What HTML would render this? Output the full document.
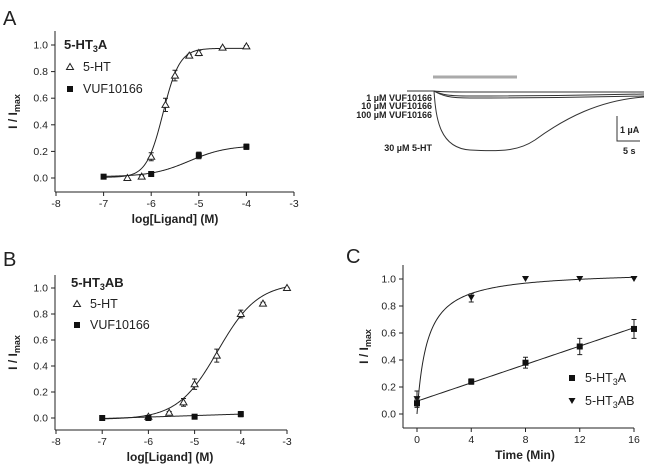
<!DOCTYPE html>
<html><head><meta charset="utf-8">
<style>
body{margin:0;background:#fff;}
svg{display:block;font-family:"Liberation Sans",Arial,sans-serif;}
</style></head>
<body>
<svg id="fig" width="653" height="472" viewBox="0 0 653 472" xmlns="http://www.w3.org/2000/svg">
<g fill="#222">
<text x="3" y="25" font-size="20">A</text>
<text x="3" y="266" font-size="20">B</text>
<text x="346" y="263" font-size="20">C</text>
</g>
<!-- Traces -->
<g fill="none" stroke="#333" stroke-width="1">
<line x1="433" y1="77" x2="517" y2="77" stroke="#aaa" stroke-width="3"/>
<path d="M407,91 L434,91 C440,92 450,92 470,92 L644,92"/>
<path d="M407,91 L434,91 C442,95 450,96 470,96 C540,96 600,95 644,94"/>
<path d="M407,91 L434,91 C442,96 450,98 470,98 C540,98 600,97 644,96"/>
<path d="M407,91 L434,91 C436,120 440,148 470,150 C505,152 520,150 535,140 C565,118 600,100 644,97"/>
<path d="M617,116 L617,141 L640,141"/>
</g>
<g font-size="9" font-weight="bold" fill="#222" text-anchor="end">
<text x="432" y="101">1 µM VUF10166</text>
<text x="432" y="109">10 µM VUF10166</text>
<text x="432" y="118">100 µM VUF10166</text>
<text x="432" y="151">30 µM 5-HT</text>
<text x="620" y="133" text-anchor="start">1 µA</text>
<text x="623" y="154" text-anchor="start">5 s</text>
</g>
</svg>
<script>
// Panel A data
const aX5HT=[-6.5,-6.2,-6,-5.7,-5.5,-5.2,-5,-4.5,-4];
const aY5HT=[0,0.01,0.16,0.55,0.77,0.92,0.94,0.98,0.99];
const aE5HT=[0,0.01,0.03,0.05,0.04,0.01,0.02,0.005,0.005];
const aXVUF=[-7,-6,-5,-4];
const aYVUF=[0.01,0.03,0.17,0.235];
const aEVUF=[0.005,0.005,0.025,0.02];
// Panel B data
const bX5HT=[-6,-5.55,-5.24,-5,-4.52,-4,-3.52,-3];
const bY5HT=[0.01,0.04,0.12,0.26,0.48,0.80,0.88,1.0];
const bE5HT=[0.01,0.01,0.03,0.04,0.05,0.03,0.01,0.005];
const bXVUF=[-7,-6,-5,-4];
const bYVUF=[0,0,0.01,0.03];
const bEVUF=[0.005,0.005,0.005,0.02];
// Panel C data
const cT=[0,4,8,12,16];
const cYA=[0.08,0.24,0.38,0.50,0.63];
const cEA=[0.03,0.02,0.04,0.06,0.07];
const cYAB=[0.11,0.86,1.0,1.0,1.0];
const cEAB=[0.06,0.03,0,0,0];
const yTicks=[0,0.2,0.4,0.6,0.8,1.0];
const logTicks=[-8,-7,-6,-5,-4,-3];
const timeTicks=[0,4,8,12,16];

const NS="http://www.w3.org/2000/svg";
const svg=document.getElementById('fig');
function mk(tag,attrs,parent){const e=document.createElementNS(NS,tag);for(const k in attrs)e.setAttribute(k,attrs[k]);(parent||svg).appendChild(e);return e;}
function hill(x,b,t,ec,n){return b+(t-b)/(1+Math.pow(10,(ec-x)*n));}

function panel(o){
  const g=mk('g',{});
  
  
  const sx=v=>o.x0+(v-o.xmin)/(o.xmax-o.xmin)*(o.x1-o.x0);
  const sy=v=>o.y0+(v-0)/(1-0)*(o.y1-o.y0);
  const ya=mk('line',{x1:o.ax,y1:o.ytop,x2:o.ax,y2:o.ay,stroke:'#222','stroke-width':1},g);
  
  
  const xa=mk('line',{x1:o.ax,y1:o.ay,x2:o.x1,y2:o.ay,stroke:'#222','stroke-width':1},g);
  
  
  yTicks.forEach(v=>{
    mk('line',{x1:o.ax-4,x2:o.ax,y1:sy(v),y2:sy(v),stroke:'#222'},g);
    const t=mk('text',{x:o.ax-7,y:sy(v)+3.5,'font-size':10.5,'text-anchor':'end',fill:'#222'},g);
    t.textContent=v.toFixed(1);
    
    
  });
  o.xticks.forEach(v=>{
    mk('line',{x1:sx(v),x2:sx(v),y1:o.ay,y2:o.ay+4,stroke:'#222'},g);
    const t=mk('text',{x:sx(v),y:o.ay+15,'font-size':10.5,'text-anchor':'middle',fill:'#222'},g);
    t.textContent=v;
    
    
  });
  const xt=mk('text',{x:o.xtx,y:o.ay+31,'font-size':12,'font-weight':'bold','text-anchor':'middle',fill:'#222'},g);
  xt.textContent=o.xtitle;
  
  
  const yt=mk('text',{transform:`translate(${o.ytx},${(o.ytop+o.ay)/2}) rotate(-90)`,'font-size':12,'font-weight':'bold','text-anchor':'middle',fill:'#222'},g);
  yt.innerHTML='I / I<tspan font-size="9" dy="3">max</tspan>';
  
  
  o.series.forEach(s=>{
    const sg=mk('g',{},g);
    
    
    let d='';
    for(let i=0;i<=200;i++){const xv=s.cx0+(s.cx1-s.cx0)*i/200;d+=(i?'L':'M')+sx(xv).toFixed(2)+','+sy(s.f(xv)).toFixed(2);}
    const c=mk('path',{d:d,fill:'none',stroke:'#222','stroke-width':1},sg);
    
    
    s.xs.forEach((xv,i)=>{
      const px=sx(xv),py=sy(s.ys[i]),e=s.es[i];
      if(e>0){
        const eb=mk('path',{d:`M${px},${sy(s.ys[i]-e)}V${sy(s.ys[i]+e)}M${px-2.5},${sy(s.ys[i]+e)}h5M${px-2.5},${sy(s.ys[i]-e)}h5`,stroke:'#222',fill:'none'},sg);
        
        
      }
      const m=marker(s.m,px,py,sg);
      
      
    });
  });
  return g;
}
function marker(type,x,y,p){
  if(type==='sq') return mk('rect',{x:x-3,y:y-3,width:6,height:6,fill:'#111'},p);
  if(type==='tri') return mk('path',{d:`M${x},${y-3.5}L${x+3.5},${y+2.5}L${x-3.5},${y+2.5}Z`,fill:'#fff',stroke:'#222'},p);
  return mk('path',{d:`M${x-3.5},${y-3}L${x+3.5},${y-3}L${x},${y+3}Z`,fill:'#111'},p);
}
function legend(items,x,y,dy,title,size){
  const g=mk('g',{});
  
  
  if(title){const t=mk('text',{x:x-6,y:y,'font-size':13,'font-weight':'bold',fill:'#222'},g);t.innerHTML=title;y+=dy;}
  items.forEach((it,i)=>{
    const m=marker(it.m,x,y+i*dy-4,g);
    
    
    const t=mk('text',{x:x+13,y:y+i*dy,'font-size':size,fill:'#222'},g);
    t.innerHTML=it.label;
    
    
  });
}
panel({name:'panel-a-chart',x0:56,x1:294,xmin:-8,xmax:-3,ax:55,ay:192,ytop:31,y0:178,y1:45,xticks:logTicks,xtitle:'log[Ligand] (M)',xtx:175,ytx:17,
 series:[{name:'series-5ht',m:'tri',xs:aX5HT,ys:aY5HT,es:aE5HT,cx0:-7,cx1:-4,f:x=>hill(x,0.005,0.975,-5.75,2.5)},
         {name:'series-vuf10166',m:'sq',xs:aXVUF,ys:aYVUF,es:aEVUF,cx0:-7,cx1:-4,f:x=>hill(x,0.01,0.245,-5.2,1.1)}]});
legend([{m:'tri',label:'5-HT'},{m:'sq',label:'VUF10166'}],70,49,22,'5-HT<tspan font-size="9" dy="3">3</tspan><tspan dy="-3">A</tspan>',12.5);
panel({name:'panel-b-chart',x0:56,x1:287,xmin:-8,xmax:-3,ax:55,ay:430,ytop:275,y0:418,y1:288,xticks:logTicks,xtitle:'log[Ligand] (M)',xtx:170,ytx:17,
 series:[{name:'series-5ht',m:'tri',xs:bX5HT,ys:bY5HT,es:bE5HT,cx0:-7,cx1:-3,f:x=>hill(x,-0.01,1.04,-4.5,1.0)},
         {name:'series-vuf10166',m:'sq',xs:bXVUF,ys:bYVUF,es:bEVUF,cx0:-7,cx1:-4,f:x=>-0.004+0.034*(x+7)/3}]});
legend([{m:'tri',label:'5-HT'},{m:'sq',label:'VUF10166'}],77,287,21,'5-HT<tspan font-size="9" dy="3">3</tspan><tspan dy="-3">AB</tspan>',12.5);
panel({name:'panel-c-chart',x0:417,x1:634,xmin:0,xmax:16,ax:403,ay:428,ytop:265,y0:414,y1:279,xticks:timeTicks,xtitle:'Time (Min)',xtx:525,ytx:368,
 series:[{name:'series-5ht3ab',m:'dtri',xs:cT,ys:cYAB,es:cEAB,cx0:0,cx1:16,f:t=>1.06*t/(0.75+t)},
         {name:'series-5ht3a',m:'sq',xs:cT,ys:cYA,es:cEA,cx0:0,cx1:16,f:t=>0.095+0.034*t}]});
legend([{m:'sq',label:'5-HT<tspan font-size="9" dy="3">3</tspan><tspan dy="-3">A</tspan>'},{m:'dtri',label:'5-HT<tspan font-size="9" dy="3">3</tspan><tspan dy="-3">AB</tspan>'}],572,382,23,null,12.5);
</script>
</body></html>
